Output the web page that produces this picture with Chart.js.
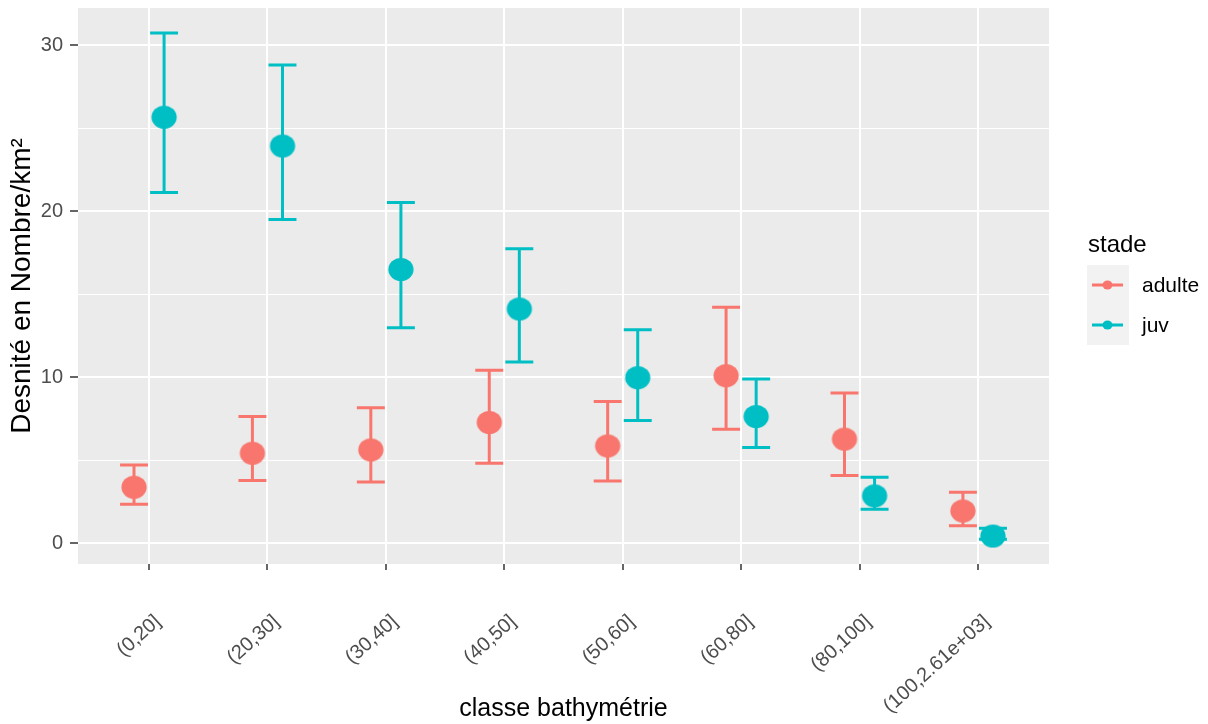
<!DOCTYPE html>
<html>
<head>
<meta charset="utf-8">
<script src="https://cdn.jsdelivr.net/npm/chart.js@4.4.1/dist/chart.umd.min.js"></script>
<style>
  html, body { margin: 0; padding: 0; background: #ffffff; }
  #wrap { width: 1208px; height: 724px; position: relative; }
</style>
</head>
<body>
<div id="wrap"><canvas id="c"></canvas></div>
<script>
// Depth classes (x axis)
const categories = ['(0,20]', '(20,30]', '(30,40]', '(40,50]', '(50,60]', '(60,80]', '(80,100]', '(100,2.61e+03]'];

// Adult density: mean and interval bounds
const adulteMean = [3.36, 5.41, 5.61, 7.26, 5.85, 10.08, 6.26, 1.93];
const adulteLow  = [2.33, 3.76, 3.68, 4.81, 3.74, 6.86, 4.06, 1.04];
const adulteHigh = [4.70, 7.62, 8.15, 10.40, 8.53, 14.20, 9.03, 3.06];

// Juvenile density: mean and interval bounds
const juvMean = [25.65, 23.92, 16.48, 14.10, 9.96, 7.62, 2.84, 0.42];
const juvLow  = [21.12, 19.49, 12.96, 10.90, 7.38, 5.75, 2.03, 0.22];
const juvHigh = [30.72, 28.79, 20.52, 17.72, 12.85, 9.88, 3.96, 0.89];

// Y axis grid values (major every 10, minor in between)
const yGridValues = [0, 5, 10, 15, 20, 25, 30];
const yLabelValues = [0, 10, 20, 30];

const seriesNames = ['adulte', 'juv'];
const seriesColors = ['#F8766D', '#00BFC4'];

const DODGE = 0.127;     // horizontal shift of each group within a class
const CAP_HALF = 0.118;  // half width of the error-bar caps (x units)
const FONT = "'Liberation Sans', Arial, sans-serif";

Chart.defaults.font.family = FONT;

function dotSprite(color, rx, ry) {
  const c = document.createElement('canvas');
  c.width = Math.ceil(rx * 2) + 2;
  c.height = Math.ceil(ry * 2) + 2;
  const g = c.getContext('2d');
  g.fillStyle = color;
  g.beginPath();
  g.ellipse(c.width / 2, c.height / 2, rx, ry, 0, 0, Math.PI * 2);
  g.fill();
  return c;
}

function makeDataset(idx, mean, low, high, shift) {
  return {
    label: seriesNames[idx],
    data: mean.map((v, i) => ({ x: i + 1 + shift, y: v })),
    errLow: low,
    errHigh: high,
    errShift: shift,
    color: seriesColors[idx],
    pointStyle: dotSprite(seriesColors[idx], 12.6, 11.5),
    pointRadius: 12,
    pointHoverRadius: 12,
    backgroundColor: seriesColors[idx],
    borderColor: seriesColors[idx],
    showLine: false
  };
}

// Grey panel behind the plotting area
const panelBackground = {
  id: 'panelBackground',
  beforeDraw(chart) {
    const { ctx, chartArea: a } = chart;
    ctx.save();
    ctx.fillStyle = '#ffffff';
    ctx.fillRect(0, 0, chart.width, chart.height);
    ctx.fillStyle = '#EBEBEB';
    ctx.fillRect(a.left, a.top, a.right - a.left, a.bottom - a.top);
    ctx.restore();
  }
};

// Vertical error bars with caps, drawn under the points
const errorBars = {
  id: 'errorBars',
  beforeDatasetsDraw(chart) {
    const { ctx, scales: { x, y } } = chart;
    ctx.save();
    ctx.lineWidth = 3;
    ctx.lineCap = 'butt';
    chart.data.datasets.forEach(ds => {
      ctx.strokeStyle = ds.color;
      ds.errLow.forEach((lo, i) => {
        const hi = ds.errHigh[i];
        const cx = i + 1 + ds.errShift;
        const px = x.getPixelForValue(cx);
        const pl = x.getPixelForValue(cx - CAP_HALF);
        const pr = x.getPixelForValue(cx + CAP_HALF);
        const py0 = y.getPixelForValue(lo);
        const py1 = y.getPixelForValue(hi);
        ctx.beginPath();
        ctx.moveTo(px, py0); ctx.lineTo(px, py1);
        ctx.moveTo(pl, py0); ctx.lineTo(pr, py0);
        ctx.moveTo(pl, py1); ctx.lineTo(pr, py1);
        ctx.stroke();
      });
    });
    ctx.restore();
  }
};

// Legend on the right: title, grey key boxes with line + dot, labels
const sideLegend = {
  id: 'sideLegend',
  afterDraw(chart) {
    const { ctx } = chart;
    const keyLeft = 1087, keyTop = 265, keyW = 42, keyH = 40;
    ctx.save();
    ctx.fillStyle = '#000000';
    ctx.font = '24px ' + FONT;
    ctx.textBaseline = 'middle';
    ctx.textAlign = 'left';
    ctx.fillText('stade', 1088, 245);
    chart.data.datasets.forEach((ds, i) => {
      const top = keyTop + i * keyH;
      const cy = top + keyH / 2;
      ctx.fillStyle = '#F2F2F2';
      ctx.fillRect(keyLeft, top, keyW, keyH);
      ctx.strokeStyle = ds.color;
      ctx.lineWidth = 3;
      ctx.beginPath();
      ctx.moveTo(keyLeft + 5, cy);
      ctx.lineTo(keyLeft + 36, cy);
      ctx.stroke();
      ctx.fillStyle = ds.color;
      ctx.beginPath();
      ctx.ellipse(keyLeft + 20.5, cy, 5, 4.6, 0, 0, Math.PI * 2);
      ctx.fill();
      ctx.fillStyle = '#000000';
      ctx.font = '21px ' + FONT;
      ctx.fillText(ds.label, 1142, cy + 1);
    });
    ctx.restore();
  }
};

const isMajor = v => yLabelValues.includes(v);

new Chart(document.getElementById('c'), {
  type: 'scatter',
  data: {
    datasets: [
      makeDataset(0, adulteMean, adulteLow, adulteHigh, -DODGE),
      makeDataset(1, juvMean, juvLow, juvHigh, DODGE)
    ]
  },
  options: {
    responsive: true,
    maintainAspectRatio: false,
    animation: false,
    events: [],
    layout: { autoPadding: false, padding: { left: 0, right: 159, top: 8, bottom: 0 } },
    plugins: {
      legend: { display: false },
      tooltip: { enabled: false }
    },
    scales: {
      x: {
        type: 'linear',
        min: 0.4,
        max: 8.6,
        afterBuildTicks: s => { s.ticks = categories.map((c, i) => ({ value: i + 1 })); },
        afterFit: s => { s.height = 160; s.paddingLeft = 0; s.paddingRight = 0; },
        border: { display: false },
        grid: {
          color: '#ffffff',
          lineWidth: 2,
          drawTicks: true,
          tickLength: 6,
          tickColor: '#333333',
          tickWidth: 1.5
        },
        ticks: {
          autoSkip: false,
          minRotation: 42,
          maxRotation: 42,
          padding: 40,
          labelOffset: 9,
          color: '#4D4D4D',
          font: { size: 20 },
          callback: v => categories[Math.round(v) - 1]
        },
        title: {
          display: true,
          text: 'classe bathymétrie',
          color: '#000000',
          font: { size: 25 },
          padding: { top: 0, bottom: 0 }
        }
      },
      y: {
        type: 'linear',
        min: -1.265,
        max: 32.23,
        afterBuildTicks: s => { s.ticks = yGridValues.map(v => ({ value: v })); },
        afterFit: s => { s.width = 78; s.paddingTop = 0; s.paddingBottom = 0; },
        border: { display: false },
        grid: {
          color: '#ffffff',
          lineWidth: c => (c.tick && isMajor(c.tick.value)) ? 2 : 1,
          drawTicks: true,
          tickLength: 8,
          tickColor: c => (c.tick && isMajor(c.tick.value)) ? '#333333' : 'rgba(0,0,0,0)',
          tickWidth: 1.5
        },
        ticks: {
          padding: 7,
          color: '#4D4D4D',
          font: { size: 20 },
          callback: v => isMajor(v) ? String(v) : ''
        },
        title: {
          display: true,
          text: 'Desnité en Nombre/km²',
          color: '#000000',
          font: { size: 28 },
          padding: { top: 5, bottom: 0 }
        }
      }
    }
  },
  plugins: [panelBackground, errorBars, sideLegend]
});
</script>
</body>
</html>
